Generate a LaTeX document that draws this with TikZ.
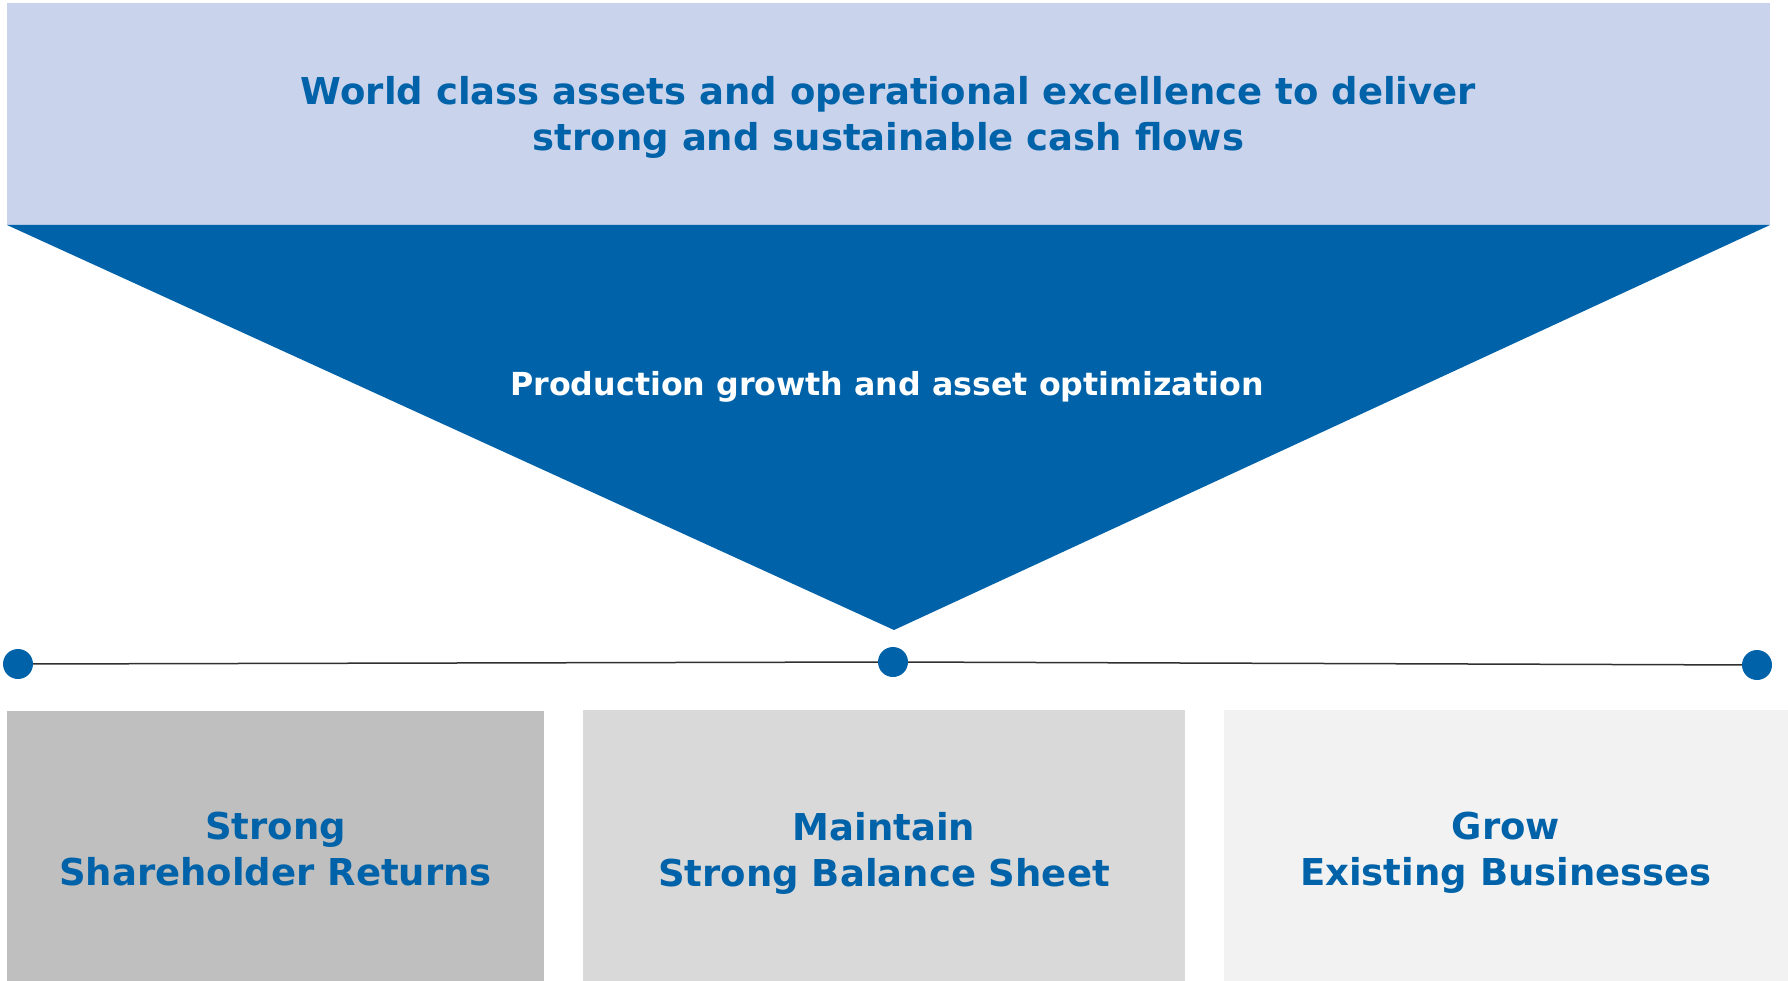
\documentclass[tikz,border=0pt]{standalone}
\usepackage{fontspec}
\setmainfont{DejaVu Sans}
\definecolor{topband}{HTML}{C9D3EB}
\definecolor{deepblue}{HTML}{0062A8}
\definecolor{greyA}{HTML}{BFBFBF}
\definecolor{greyB}{HTML}{D9D9D9}
\definecolor{greyC}{HTML}{F2F2F2}
\definecolor{rule}{HTML}{303030}
\tikzset{
  band/.style={fill=topband, draw=none},
  funnel/.style={fill=deepblue, draw=none},
  pillartext/.style={text=deepblue, font=\bfseries\fontsize{37}{46}\selectfont, align=center, text depth=0pt},
  dot/.style={circle, fill=deepblue, draw=none, minimum size=30pt, inner sep=0pt},
  baseline rule/.style={draw=rule, line width=1.5pt},
}
\begin{document}
\begin{tikzpicture}[x=1pt,y=-1pt]
\useasboundingbox (0,0) rectangle (1788,981);
% top band with headline
\fill[band] (7,3) rectangle (1770,225);
\node[text=deepblue, font=\bfseries\fontsize{37}{46}\selectfont, align=center] (headline) at (888.5,117)
  {World class assets and operational excellence to deliver\\strong and sustainable cash flows};
% funnel
\fill[funnel] (7,225) -- (1770,225) -- (894,630) -- cycle;
\node[text=white, font=\bfseries\fontsize{31.7}{38}\selectfont] (funnel text) at (887,386.5)
  {Production growth and asset optimization};
% timeline with dots
\node[dot] (d1) at (18,664) {};
\node[dot] (d2) at (893,662) {};
\node[dot] (d3) at (1757,665) {};
\draw[baseline rule] (d1) -- (d2);
\draw[baseline rule] (d2) -- (d3);
% three pillars
\fill[greyA] (7,711) rectangle (544,981);
\fill[greyB] (583,710) rectangle (1185,981);
\fill[greyC] (1224,710) rectangle (1788,981);
\node[pillartext] (p1) at (275.5,849) {Strong\\Shareholder Returns};
\node[pillartext] (p2) at (884,849) {Maintain\\Strong Balance Sheet};
\node[pillartext] (p3) at (1506,849) {Grow\\Existing Businesses};
\end{tikzpicture}
\end{document}
